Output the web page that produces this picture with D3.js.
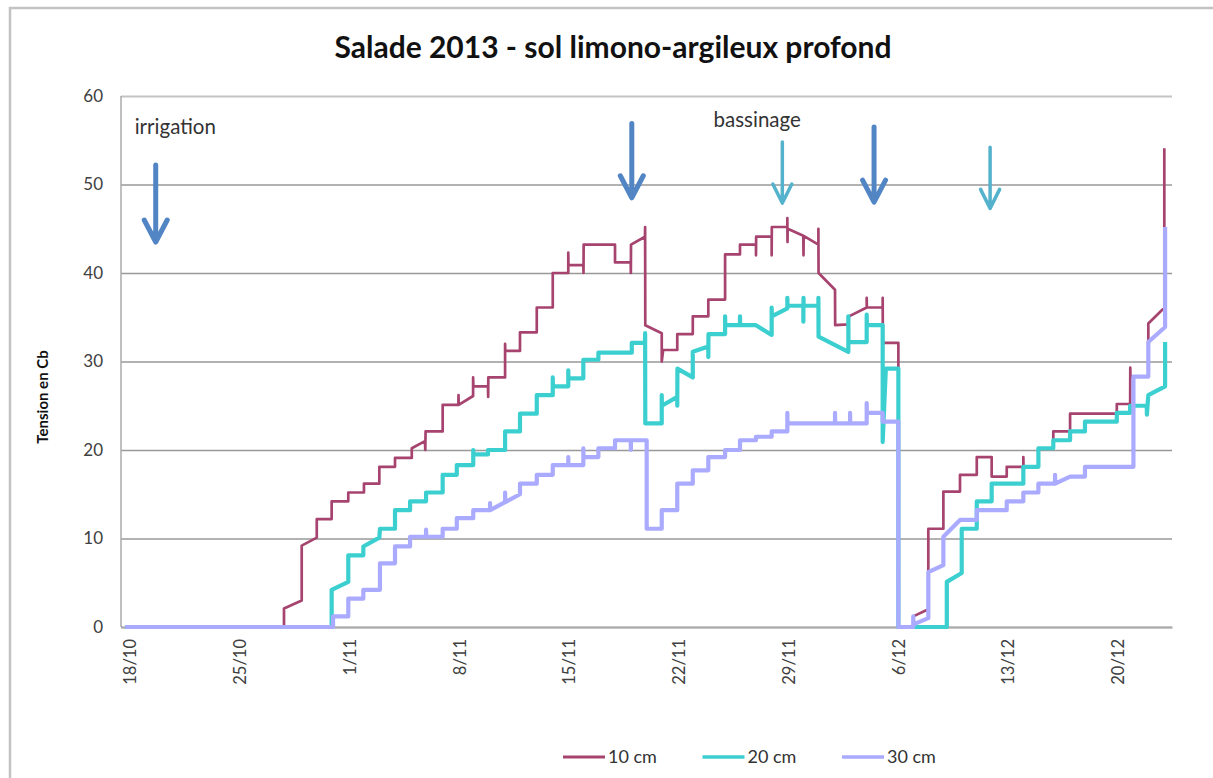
<!DOCTYPE html>
<html>
<head>
<meta charset="utf-8">
<script src="https://cdn.jsdelivr.net/npm/d3@7"></script>
<style>
  body { margin: 0; background: #fff; }
  svg { display: block; font-family: Lato, "Open Sans", sans-serif; }
</style>
</head>
<body>
<svg id="chart" width="1213" height="778"></svg>
<script>
// ---------------------------------------------------------------------------
// Data (time in days after 18/10/2013, tension in cb)
// ---------------------------------------------------------------------------

const baseDate = "2013-10-18";
const tickDates = ["2013-10-18", "2013-10-25", "2013-11-01", "2013-11-08", "2013-11-15",
  "2013-11-22", "2013-11-29", "2013-12-06", "2013-12-13", "2013-12-20"];
const tickLabels = ["18/10", "25/10", "1/11", "8/11", "15/11", "22/11", "29/11", "6/12", "13/12", "20/12"];
const yTicks = [0, 10, 20, 30, 40, 50, 60];

const seriesNames = ["10 cm", "20 cm", "30 cm"];

const s10 = [
  [-0.3,0],[9.82,0],[9.82,2.1],[10.95,3.0],[10.95,9.2],[11.91,10.1],[11.91,12.2],[12.86,12.2],
  [12.86,14.2],[13.92,14.2],[13.92,15.2],[14.92,15.2],[14.92,16.2],[15.9,16.2],[15.9,18.1],
  [16.9,18.1],[16.9,19.1],[17.97,19.1],[17.97,20.2],[18.81,21.0],[18.83,20.0],[18.85,22.1],
  [19.94,22.1],[19.94,25.1],[20.94,25.1],[20.95,26.2],[20.96,25.1],[21.88,26.1],[21.88,28.2],
  [21.9,27.2],[22.83,27.2],[22.84,26.0],[22.85,28.2],[23.92,28.2],[23.92,32.0],[23.93,31.2],
  [24.87,31.2],[24.87,33.3],[25.94,33.3],[25.94,36.1],[26.96,36.1],[26.96,40.0],[27.95,40.0],
  [27.95,42.3],[27.96,40.9],[28.91,40.9],[28.92,40.0],[28.93,43.2],[30.93,43.2],[30.93,41.2],
  [31.93,41.2],[31.94,40.0],[31.95,43.2],[32.84,44.1],[32.85,45.2],[32.86,34.1],[33.91,33.2],
  [33.91,30.0],[34.0,31.3],[34.9,31.3],[34.9,33.1],[35.89,33.1],[35.89,35.1],[36.88,35.1],
  [36.88,37.0],[37.95,37.0],[37.95,42.1],[38.9,42.1],[38.9,43.2],[39.92,43.2],[39.92,42.0],
  [39.93,44.1],[40.92,44.1],[40.92,42.0],[40.93,45.2],[41.92,45.2],[41.92,46.2],[41.93,43.5],
  [41.94,45.0],[42.94,44.2],[42.95,42.0],[42.96,44.2],[43.9,43.2],[43.9,45.0],[43.91,40.0],
  [44.96,38.1],[44.97,34.1],[45.81,34.2],[45.85,35.1],[46.98,36.1],[46.98,37.2],[46.99,36.1],
  [48.0,36.1],[48.0,37.2],[48.01,32.1],[49.0,32.1],[49.0,29.3],[49.01,0],[49.95,0],[49.95,1.2],
  [50.91,2.0],[50.91,11.1],[51.87,11.1],[51.87,15.3],[52.93,15.3],[52.93,17.2],[54.0,17.2],
  [54.0,19.2],[54.95,19.2],[54.95,17.0],[55.91,17.0],[55.91,18.1],[56.97,18.1],[56.97,19.2],
  [56.98,18.1],[57.93,18.1],[57.93,20.2],[58.88,20.2],[58.88,22.1],[59.95,22.1],[59.95,24.1],
  [62.93,24.1],[62.93,25.2],[63.78,25.2],[63.79,29.3],[63.8,28.3],[64.94,28.3],[64.94,34.3],
  [65.8,35.8],[65.96,36.0],[65.96,54.1]
];

const s20 = [
  [-0.3,0],[12.86,0],[12.86,4.2],[13.92,5.1],[13.92,8.1],[14.88,8.1],[14.88,9.1],[15.9,10.1],
  [15.94,11.1],[16.9,11.1],[16.9,13.2],[17.86,13.2],[17.86,14.2],[18.88,14.2],[18.88,15.2],
  [19.94,15.2],[19.94,17.2],[20.84,17.2],[20.84,18.3],[21.89,18.3],[21.89,20.0],[21.9,19.5],
  [22.83,19.5],[22.83,20.0],[23.92,20.0],[23.92,22.1],[24.87,22.1],[24.87,24.1],[25.94,24.1],
  [25.94,26.2],[26.96,26.2],[26.96,28.2],[26.97,27.2],[27.95,27.2],[27.95,29.0],[27.96,28.1],
  [28.91,28.1],[28.91,30.2],[29.87,30.2],[29.87,31.0],[32.0,31.0],[32.0,32.1],[32.84,32.1],
  [32.85,33.2],[32.86,23.0],[33.91,23.0],[33.91,26.2],[33.92,25.0],[34.9,26.0],[34.9,25.0],
  [34.91,29.2],[35.89,28.2],[35.89,31.1],[36.88,31.7],[36.88,30.5],[36.89,33.1],[37.95,33.1],
  [37.95,35.1],[37.96,34.1],[38.9,34.1],[38.9,35.1],[38.91,34.1],[39.92,34.1],[40.92,33.0],
  [40.92,36.1],[40.93,35.1],[41.92,36.0],[41.92,37.2],[41.93,36.3],[42.94,36.3],[42.94,34.5],
  [42.95,37.2],[42.96,36.3],[43.9,36.3],[43.9,37.2],[43.91,32.8],[45.81,31.1],[45.81,35.1],
  [45.82,32.2],[46.98,32.2],[46.98,35.3],[46.99,34.1],[48.0,34.1],[48.0,20.9],[48.2,29.2],
  [49.0,29.2],[49.0,0],[52.09,0],[52.09,5.1],[53.04,6.1],[53.04,11.1],[54.0,11.1],[54.0,14.2],
  [54.95,14.2],[54.95,16.2],[56.97,16.2],[56.97,18.1],[57.93,18.1],[57.93,20.2],[58.88,20.2],
  [58.88,21.1],[59.95,21.1],[59.95,22.1],[60.9,22.1],[60.9,23.2],[62.93,23.2],[62.93,24.2],
  [63.78,24.2],[63.78,25.0],[64.84,25.0],[64.85,24.0],[64.94,26.2],[66.01,27.2],[66.01,32.2]
];

const s30 = [
  [-0.3,0],[12.95,0],[12.95,1.2],[13.92,1.2],[13.92,3.2],[14.88,3.2],[14.88,4.2],[15.94,4.2],
  [15.94,7.2],[16.9,7.2],[16.9,9.1],[17.86,9.1],[17.86,10.2],[18.88,10.2],[18.88,11.0],
  [18.89,10.2],[19.94,10.2],[19.94,11.1],[20.84,11.1],[20.84,12.3],[21.89,12.3],[21.89,13.2],
  [22.96,13.2],[22.96,14.0],[22.97,13.2],[23.92,14.1],[23.92,15.2],[23.93,14.1],[24.87,15.0],
  [24.87,16.2],[25.94,16.2],[25.94,17.2],[26.96,17.2],[26.96,18.3],[27.95,18.3],[27.95,19.2],
  [27.96,18.3],[28.91,18.3],[28.91,20.2],[28.92,19.2],[29.87,19.2],[29.87,20.2],[30.93,20.2],
  [30.93,21.1],[31.93,21.1],[31.94,20.0],[31.95,21.1],[32.95,21.1],[32.95,11.1],[33.91,11.1],
  [33.91,13.2],[34.9,13.2],[34.9,16.2],[35.89,16.2],[35.89,17.7],[36.88,17.7],[36.88,19.2],
  [37.95,19.2],[37.95,20.0],[38.9,20.0],[38.9,21.1],[39.92,21.1],[39.92,21.5],[40.92,21.5],
  [40.92,22.1],[41.92,22.1],[41.92,24.2],[41.93,23.0],[44.96,23.0],[44.96,24.2],[44.97,23.0],
  [45.92,23.0],[45.92,24.2],[45.93,23.0],[46.98,23.0],[46.98,25.3],[46.99,24.2],[48.0,24.2],
  [48.0,23.2],[49.0,23.2],[49.0,0],[49.95,0],[49.95,1.2],[49.96,0.3],[50.91,1.0],[50.91,6.2],
  [51.87,7.0],[51.87,10.2],[52.93,12.1],[54.0,12.1],[54.0,13.2],[55.91,13.2],[55.91,14.2],
  [56.97,14.2],[56.97,15.2],[57.93,15.2],[57.93,16.2],[58.99,16.2],[58.99,17.2],[59.0,16.2],
  [59.95,17.0],[60.9,17.0],[60.9,18.1],[63.99,18.1],[63.99,28.3],[64.94,28.3],[64.94,32.2],
  [66.01,33.9],[66.01,45.2]
];

// annotation arrows: [day, value at tail, value at tip]
const irrigationArrows = [[1.64, 52.2, 43.5], [32.0, 56.9, 48.5], [47.45, 56.5, 48.0]];
const bassinageArrows = [[41.6, 54.8, 47.9], [54.85, 54.2, 47.3]];
// annotation labels: [text, day, value]
const notes = [["irrigation", 0.3, 55.7], ["bassinage", 40.0, 56.5]];

// ---------------------------------------------------------------------------
// Layout
// ---------------------------------------------------------------------------

const W = 1213, H = 778;
const margin = { top: 96, right: 41, bottom: 151, left: 121 };
const colors = ["#a6446f", "#3ccfd0", "#aaaaff"];
const widths = [2.7, 4.2, 4.2];

const DAY = 864e5;
const t0 = Date.parse(baseDate + "T00:00:00Z");
const toDate = d => new Date(t0 + d * DAY);

const svg = d3.select("#chart");

const x = d3.scaleUtc()
  .domain([toDate(-0.574), toDate(66.45)])
  .range([margin.left, W - margin.right]);
const y = d3.scaleLinear().domain([0, 60]).range([H - margin.bottom, margin.top]);

// chart frame
svg.append("rect")
  .attr("x", 10).attr("y", 8).attr("width", W + 20).attr("height", H + 20)
  .attr("fill", "#fff").attr("stroke", "#c3c3c3").attr("stroke-width", 2.5);

// title
svg.append("text")
  .attr("x", 613).attr("y", 58).attr("text-anchor", "middle")
  .attr("font-size", 30).attr("font-weight", "bold").attr("fill", "#111")
  .text("Salade 2013 - sol limono-argileux profond");

// ---------------------------------------------------------------------------
// Axes & grid
// ---------------------------------------------------------------------------

const yAx = svg.append("g")
  .attr("transform", `translate(${margin.left},0)`)
  .call(d3.axisLeft(y).tickValues(yTicks).tickSize(-(W - margin.left - margin.right)).tickPadding(18));
yAx.select(".domain").remove();
yAx.selectAll(".tick line")
  .attr("stroke", (d) => d === 60 ? "#c4c4c4" : "#999")
  .attr("stroke-width", (d) => d === 60 ? 2 : 1.4);
yAx.selectAll(".tick text")
  .attr("font-size", 17).attr("fill", "#404040").attr("font-family", "Lato, sans-serif");

svg.append("line")
  .attr("x1", margin.left).attr("x2", margin.left)
  .attr("y1", margin.top).attr("y2", H - margin.bottom)
  .attr("stroke", "#aaa").attr("stroke-width", 1.5);

const xAx = svg.append("g")
  .attr("transform", `translate(0,${H - margin.bottom})`)
  .call(d3.axisBottom(x)
    .tickValues(tickDates.map(s => new Date(s + "T00:00:00Z")))
    .tickFormat((d, i) => tickLabels[i])
    .tickSize(0));
xAx.select(".domain").attr("stroke", "#aaa").attr("stroke-width", 2);
xAx.selectAll(".tick text")
  .attr("font-size", 16.5).attr("fill", "#404040").attr("font-family", "Lato, sans-serif")
  .attr("text-anchor", "end")
  .attr("transform", "rotate(-90)")
  .attr("x", -12).attr("y", 0).attr("dy", "0.35em");

svg.append("text")
  .attr("transform", `translate(48,397) rotate(-90)`)
  .attr("text-anchor", "middle").attr("font-size", 15).attr("font-weight", "bold")
  .attr("fill", "#111")
  .text("Tension en Cb");

// ---------------------------------------------------------------------------
// Series
// ---------------------------------------------------------------------------

const line = d3.line().x(d => x(toDate(d[0]))).y(d => y(d[1]));

[s10, s20, s30].forEach((s, i) => {
  svg.append("path")
    .datum(s)
    .attr("d", line)
    .attr("fill", "none")
    .attr("stroke", colors[i])
    .attr("stroke-width", widths[i])
    .attr("stroke-linejoin", "round");
});

// ---------------------------------------------------------------------------
// Annotations
// ---------------------------------------------------------------------------

function arrow(a, color, sw, hw, hh) {
  const ax = x(toDate(a[0])), yTail = y(a[1]), yTip = y(a[2]);
  svg.append("path")
    .attr("d", `M${ax},${yTail}L${ax},${yTip - 2}M${ax - hw},${yTip - hh}L${ax},${yTip}L${ax + hw},${yTip - hh}`)
    .attr("fill", "none").attr("stroke", color).attr("stroke-width", sw)
    .attr("stroke-linecap", "round").attr("stroke-linejoin", "round");
}
irrigationArrows.forEach(a => arrow(a, "#5285c4", 5, 11.5, 22));
bassinageArrows.forEach(a => arrow(a, "#55b2cc", 3.5, 9.5, 19));

svg.selectAll(".note")
  .data(notes)
  .join("text")
  .attr("class", "note")
  .attr("x", d => x(toDate(d[1])))
  .attr("y", d => y(d[2]))
  .attr("text-anchor", (d, i) => i === 0 ? "start" : "middle")
  .attr("font-size", 20.5).attr("fill", "#333")
  .text(d => d[0]);

// ---------------------------------------------------------------------------
// Legend
// ---------------------------------------------------------------------------

const legend = svg.append("g").attr("transform", "translate(563,757)");
seriesNames.forEach((name, i) => {
  const g = legend.append("g").attr("transform", `translate(${i * 139.5},0)`);
  g.append("line").attr("x1", 0).attr("x2", 42).attr("y1", 0).attr("y2", 0)
    .attr("stroke", colors[i]).attr("stroke-width", i === 0 ? 3 : 3.5);
  g.append("text").attr("x", 45).attr("y", 0).attr("dy", "0.35em")
    .attr("font-size", 18).attr("fill", "#333").text(name);
});
</script>
</body>
</html>
